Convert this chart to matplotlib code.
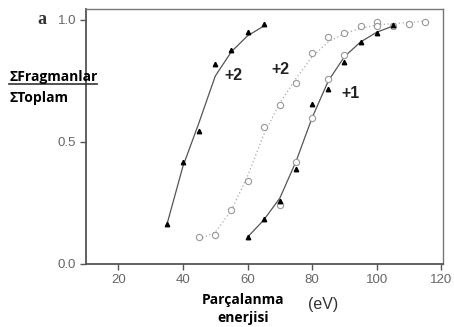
import matplotlib
matplotlib.use("Agg")
import matplotlib.pyplot as plt
from matplotlib.lines import Line2D

# Left +2 series (filled triangles)
a_x = [35, 40, 45, 50, 55, 60, 65]
a_y = [0.165, 0.42, 0.545, 0.82, 0.875, 0.95, 0.985]
a_fit_x = [35, 40, 45, 50, 55, 60, 65]
a_fit_y = [0.16, 0.40, 0.58, 0.77, 0.87, 0.935, 0.975]

# Middle +2 series (open circles, dotted)
b_x = [45, 50, 55, 60, 65, 70, 75, 80, 85, 90, 95, 100, 105, 110, 115]
b_y = [0.11, 0.12, 0.22, 0.34, 0.56, 0.65, 0.74, 0.865, 0.93, 0.945, 0.975, 0.99, 0.975, 0.985, 0.993]
b_fit_x = [45, 50, 55, 60, 65, 70, 75, 80, 85, 90, 95, 100, 105, 110, 115]
b_fit_y = [0.10, 0.13, 0.22, 0.36, 0.53, 0.66, 0.76, 0.85, 0.91, 0.945, 0.965, 0.98, 0.985, 0.99, 0.995]

# Right +1 series (filled triangles + open circles)
c_tri_x = [60, 65, 70, 75, 80, 85, 90, 95, 100, 105]
c_tri_y = [0.11, 0.183, 0.259, 0.388, 0.656, 0.717, 0.829, 0.911, 0.948, 0.98]
c_circ_x = [70, 75, 80, 85, 90, 100]
c_circ_y = [0.24, 0.42, 0.60, 0.76, 0.855, 0.975]
c_fit_x = [60, 65, 70, 75, 80, 85, 90, 95, 100, 105]
c_fit_y = [0.11, 0.18, 0.27, 0.42, 0.60, 0.75, 0.85, 0.91, 0.95, 0.975]

x_ticks = [20, 40, 60, 80, 100, 120]
y_ticks = [0.0, 0.5, 1.0]
y_tick_labels = ["0.0", "0.5", "1.0"]

fig = plt.figure(figsize=(4.54, 3.27), dpi=100)
ax = fig.add_axes([86/454, 1-264/327, (443-86)/454, (264-9)/327])

ax.plot(a_fit_x, a_fit_y, color="#555555", lw=0.9, zorder=2)
ax.plot(a_x, a_y, ls="none", marker="^", ms=3.2, color="black", zorder=3)

ax.plot(b_fit_x, b_fit_y, color="#aaaaaa", lw=0.9, ls=(0, (1, 2)), zorder=2)
ax.plot(b_x, b_y, ls="none", marker="o", ms=4.5, mfc="white", mec="#999999", mew=0.8, zorder=3)

ax.plot(c_fit_x, c_fit_y, color="#555555", lw=0.9, zorder=2)
ax.plot(c_circ_x, c_circ_y, ls="none", marker="o", ms=4.5, mfc="white", mec="#999999", mew=0.8, zorder=3)
ax.plot(c_tri_x, c_tri_y, ls="none", marker="^", ms=3.2, color="black", zorder=4)

ax.set_xlim(10, 120.5)
ax.set_ylim(0, 1.045)
ax.set_xticks(x_ticks)
ax.set_yticks(y_ticks)
ax.set_yticklabels(y_tick_labels)

for lab in ax.get_xticklabels() + ax.get_yticklabels():
    lab.set_fontfamily("Liberation Sans")
    lab.set_fontsize(9.5)
    lab.set_color("#666666")
ax.tick_params(direction="out", length=4, width=1, color="#555555", pad=3)

for s in ["left", "bottom"]:
    ax.spines[s].set_color("#555555")
    ax.spines[s].set_linewidth(1.3)
for s in ["top", "right"]:
    ax.spines[s].set_color("#777777")
    ax.spines[s].set_linewidth(1.0)

for tx, ty, s in [(233, 76, "+2"), (280, 69, "+2"), (351, 93, "+1")]:
    fig.text(tx/454, 1-ty/327, s, ha="center", va="center",
             fontsize=11.5, fontweight="bold", family="Liberation Sans", color="#222222")

fig.text(42/454, 1-20/327, "a", ha="center", va="center", fontsize=13,
         fontweight="bold", family="Liberation Serif", color="#333333")

fig.text(9/454, 1-77/327, "ΣFragmanlar", ha="left", va="center", fontsize=10,
         fontweight="bold", family="Open Sans")
fig.text(9/454, 1-98/327, "ΣToplam", ha="left", va="center", fontsize=10,
         fontweight="bold", family="Open Sans")
fig.add_artist(Line2D([9/454, 97/454], [1-83.5/327, 1-83.5/327], color="#333333", lw=1.2))

fig.text(243/454, 1-300/327, "Parçalanma", ha="center", va="center", fontsize=10,
         fontweight="bold", family="Open Sans")
fig.text(243/454, 1-318/327, "enerjisi", ha="center", va="center", fontsize=10,
         fontweight="bold", family="Open Sans")
fig.text(323/454, 1-305/327, "(eV)", ha="center", va="center", fontsize=11.5,
         color="#333333", family="Liberation Sans")

fig.savefig("out.png", dpi=100, facecolor="white")
